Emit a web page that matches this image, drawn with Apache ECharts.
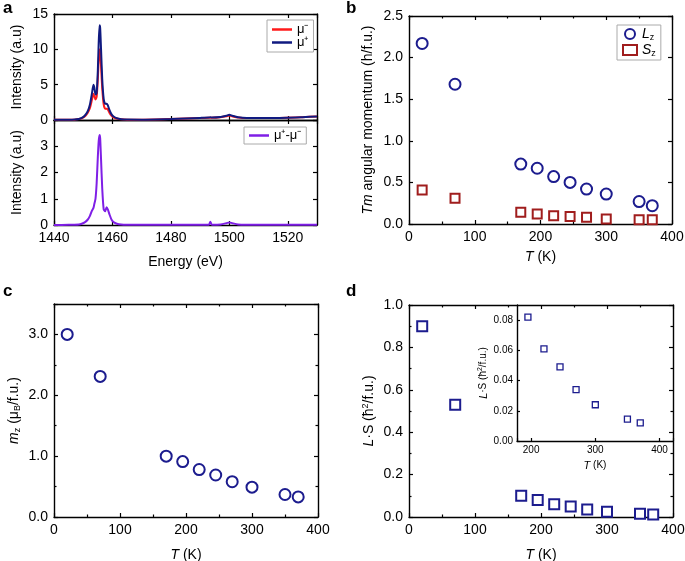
<!DOCTYPE html>
<html>
<head>
<meta charset="utf-8">
<script src="https://cdn.jsdelivr.net/npm/echarts@6/dist/echarts.min.js"></script>
<style>html,body{margin:0;padding:0;background:#fff}#main{width:685px;height:561px}</style>
</head>
<body>
<div id="main"></div>
<script>
// panel a: XMCD spectra
var energy  = [1440, 1445, 1447, 1448.5, 1449.5, 1450.5, 1451.5, 1452.3, 1453, 1453.5, 1453.8, 1454.2, 1454.6, 1455, 1455.3, 1455.6, 1455.8, 1456.1, 1456.5, 1457, 1457.5, 1458, 1458.4, 1459, 1459.7, 1460.5, 1461.5, 1463, 1465, 1470, 1480, 1490, 1493, 1493.5, 1494, 1497, 1499, 1500, 1501, 1503, 1506, 1515, 1525, 1530];
var muPlus  = [0.02, 0.03, 0.06, 0.15, 0.3, 0.6, 1.2, 2.2, 3.8, 5.0, 4.6, 3.6, 3.8, 7.0, 11.0, 13.4, 13.0, 10.0, 5.8, 3.0, 2.3, 2.3, 2.1, 1.4, 0.8, 0.45, 0.25, 0.12, 0.06, 0.05, 0.15, 0.3, 0.35, 0.4, 0.35, 0.42, 0.6, 0.75, 0.6, 0.38, 0.28, 0.28, 0.4, 0.5];
var muMinus = [0.02, 0.03, 0.05, 0.13, 0.25, 0.5, 1.0, 1.7, 2.9, 3.7, 3.4, 2.9, 3.3, 5.8, 8.5, 10.0, 9.7, 7.6, 4.5, 2.2, 1.6, 1.6, 1.5, 1.0, 0.6, 0.35, 0.2, 0.1, 0.05, 0.05, 0.15, 0.29, 0.33, 0.33, 0.33, 0.4, 0.52, 0.62, 0.52, 0.36, 0.28, 0.28, 0.4, 0.5];
var muDiff  = [0, 0.005, 0.01, 0.02, 0.05, 0.1, 0.2, 0.35, 0.55, 0.65, 0.8, 1.0, 1.6, 2.6, 3.2, 3.43, 3.3, 2.5, 1.4, 0.6, 0.52, 0.68, 0.6, 0.4, 0.2, 0.1, 0.05, 0.02, 0.01, 0.005, 0.01, 0.01, 0.01, 0.12, 0.01, 0.02, 0.07, 0.1, 0.07, 0.02, 0.01, 0.005, 0.005, 0.01];

// panels b, c, d
var temps = [20, 70, 170, 195, 220, 245, 270, 300, 350, 370];
var lz = [2.17, 1.68, 0.72, 0.67, 0.57, 0.50, 0.42, 0.36, 0.27, 0.22];
var sz = [0.41, 0.31, 0.14, 0.12, 0.10, 0.09, 0.08, 0.06, 0.05, 0.05];
var mz = [3.0, 2.31, 1.0, 0.91, 0.78, 0.69, 0.58, 0.49, 0.37, 0.33];
var ls = [0.90, 0.53, 0.10, 0.08, 0.06, 0.05, 0.035, 0.025, 0.015, 0.012];
// inset of d
var insetT  = [195, 220, 245, 270, 300, 350, 370];
var insetLS = [0.082, 0.061, 0.049, 0.034, 0.024, 0.0145, 0.012];

var FONT = '"Liberation Sans", Arial, sans-serif';
var NAVY = '#1c1c8e', RED = '#a01d1d';
var rich = {
	i: {fontStyle: 'italic', fontFamily: FONT, fontSize: 14, color: '#000'},
	sub: {fontFamily: FONT, fontSize: 9, color: '#000', verticalAlign: 'bottom', padding: [7, 0, 0, 0]},
	sup: {fontFamily: FONT, fontSize: 9, color: '#000', verticalAlign: 'top', padding: [0, 0, 7, 0]},
	si: {fontStyle: 'italic', fontFamily: FONT, fontSize: 11, color: '#000'},
	ssub: {fontFamily: FONT, fontSize: 7, color: '#000', verticalAlign: 'bottom', padding: [6, 0, 0, 0]},
	ssup: {fontFamily: FONT, fontSize: 7, color: '#000', verticalAlign: 'top', padding: [0, 0, 6, 0]}
};

function pairs(xs, ys) {
	var out = [];
	for (var i = 0; i < xs.length; i++) out.push([xs[i], ys[i]]);
	return out;
}

var grids = [], xAxes = [], yAxes = [];

function axis(grid, pos, o, main) {
	var fs = o.fontSize || 14;
	return {
		type: 'value', gridIndex: grid, position: pos,
		min: o.min, max: o.max, interval: o.interval, splitNumber: o.splitNumber,
		name: main ? o.name : '', nameLocation: 'middle', nameGap: o.nameGap,
		nameTextStyle: {fontFamily: FONT, fontSize: fs, color: '#000', rich: rich},
		axisLine: {show: true, onZero: false, lineStyle: {color: '#000', width: 1.4}},
		axisTick: {show: true, inside: true, length: o.tickLen || 4, lineStyle: {color: '#000', width: 1.2}},
		minorTick: {show: !!o.minor, splitNumber: 2, length: 2.5, lineStyle: {color: '#000', width: 1.2}},
		axisLabel: {
			show: main && o.labels !== false, fontFamily: FONT, fontSize: fs, color: '#000',
			margin: o.margin || 6, showMaxLabel: o.showMax, showMinLabel: o.showMin,
			formatter: o.fmt || function (v) { return String(v); }
		},
		splitLine: {show: false}
	};
}

function addBox(g, xo, yo, full) {
	grids.push({left: g[0], top: g[1], width: g[2], height: g[3], containLabel: false, outerBoundsMode: 'none',
		show: !!g[4], backgroundColor: '#fff', borderWidth: 0});
	var gi = grids.length - 1;
	var ax = {x: xAxes.length, y: yAxes.length};
	xAxes.push(axis(gi, 'bottom', xo, true));
	yAxes.push(axis(gi, 'left', yo, true));
	if (full) {
		xAxes.push(axis(gi, 'top', xo, false));
		yAxes.push(axis(gi, 'right', yo, false));
	}
	return ax;
}

function fix(n) { return function (v) { return v.toFixed(n); }; }

var axA1 = addBox([54, 14, 263, 106],
	{min: 1440, max: 1530, interval: 20, labels: false},
	{min: 0, max: 15, interval: 5, name: 'Intensity (a.u)', nameGap: 30}, true);
var axA2 = addBox([54, 120, 263, 105],
	{min: 1440, max: 1530, interval: 20, name: 'Energy (eV)', nameGap: 30, showMax: false},
	{min: 0, max: 4, interval: 1, name: 'Intensity (a.u)', nameGap: 30, showMax: false}, true);
var axB = addBox([409, 16, 263, 208],
	{min: 0, max: 400, interval: 100, minor: true, name: '{i|T} (K)', nameGap: 26},
	{min: 0, max: 2.5, interval: 0.5, name: '{i|Tm} angular momentum (h/f.u.)', nameGap: 34, fmt: fix(1)}, true);
var axC = addBox([54, 304, 264, 213],
	{min: 0, max: 400, interval: 100, minor: true, name: '{i|T} (K)', nameGap: 31},
	{min: 0, max: 3.5, interval: 1, minor: true, name: '{i|m}{sub|z} (μ{sub|B}/f.u.)', nameGap: 32, fmt: fix(1), showMax: false}, true);
var axD = addBox([409, 305, 264, 212],
	{min: 0, max: 400, interval: 100, minor: true, name: '{i|T} (K)', nameGap: 31},
	{min: 0, max: 1, interval: 0.2, minor: true, name: '{i|L}·S (ħ{sup|2}/f.u.)', nameGap: 32, fmt: fix(1)}, true);
var axI = addBox([517, 305, 156, 136, true],
	{min: 178, max: 421, splitNumber: 2, fontSize: 10, tickLen: 3, margin: 4, name: '{si|T} (K)', nameGap: 19,
		fmt: function (v) { return v % 100 === 0 ? String(v) : ''; }},
	{min: 0, max: 0.09, interval: 0.02, fontSize: 10, tickLen: 3, margin: 4, name: '{si|L}·S (ħ{ssup|2}/f.u.)', nameGap: 27,
		fmt: fix(2), showMax: false}, false);

function spectrum(name, ax, ys, color) {
	return {
		type: 'line', name: name, xAxisIndex: ax.x, yAxisIndex: ax.y, data: pairs(energy, ys),
		symbol: 'none', showSymbol: false, smooth: 0.2, lineStyle: {color: color, width: 2}, itemStyle: {color: color}
	};
}
function points(name, ax, xs, ys, sym, size, color, bw) {
	return {
		type: 'scatter', name: name, xAxisIndex: ax.x, yAxisIndex: ax.y, data: pairs(xs, ys),
		symbol: sym, symbolSize: size,
		itemStyle: {color: '#fff', borderColor: color, borderWidth: bw || 2, opacity: 1}
	};
}

var legendText = {
	'mu-': 'μ⁻', 'mu+': 'μ⁺', 'diff': 'μ⁺-μ⁻',
	'Lz': '{i|L}{sub|z}', 'Sz': '{i|S}{sub|z}'
};
function legend(items, left, top, extra) {
	var l = {
		data: items, left: left, top: top,
		orient: 'vertical', itemWidth: 20, itemHeight: 10, itemGap: 1, padding: [2, 5, 2, 5],
		borderColor: '#aaa', borderWidth: 1, borderRadius: 0, backgroundColor: '#fff',
		textStyle: {fontFamily: FONT, fontSize: 13, color: '#000', rich: rich},
		formatter: function (n) { return legendText[n]; }
	};
	for (var k in extra) l[k] = extra[k];
	return l;
}

var myChart = echarts.init(document.getElementById('main'));
var option = {
	backgroundColor: '#fff',
	animation: false,
	grid: grids,
	xAxis: xAxes,
	yAxis: yAxes,
	legend: [
		legend([{name: 'mu-', icon: 'rect'}, {name: 'mu+', icon: 'rect'}], 267, 20, {itemHeight: 2.5, itemGap: 0, padding: [3, 5, 3, 5]}),
		legend([{name: 'diff', icon: 'rect'}], 244, 127, {itemHeight: 2.5, padding: [2, 5, 2, 5]}),
		legend(['Lz', 'Sz'], 617, 25, {itemWidth: 14})
	],
	graphic: [
		{type: 'text', left: 3, top: 0, style: {text: 'a', font: 'bold 17px ' + FONT, fill: '#000'}},
		{type: 'text', left: 346, top: 0, style: {text: 'b', font: 'bold 17px ' + FONT, fill: '#000'}},
		{type: 'text', left: 3, top: 283, style: {text: 'c', font: 'bold 17px ' + FONT, fill: '#000'}},
		{type: 'text', left: 346, top: 283, style: {text: 'd', font: 'bold 17px ' + FONT, fill: '#000'}}
	],
	series: [
		spectrum('mu-', axA1, muMinus, '#ff1a1a'),
		spectrum('mu+', axA1, muPlus, '#101a80'),
		spectrum('diff', axA2, muDiff, '#7f1fe6'),
		points('Lz', axB, temps, lz, 'circle', 11, NAVY),
		points('Sz', axB, temps, sz, 'rect', 9, RED),
		points('mz', axC, temps, mz, 'circle', 11, NAVY),
		points('LS', axD, temps, ls, 'rect', 10, NAVY),
		points('LSi', axI, insetT, insetLS, 'rect', 6, NAVY, 1.3)
	]
};
myChart.setOption(option);
</script>
</body>
</html>
